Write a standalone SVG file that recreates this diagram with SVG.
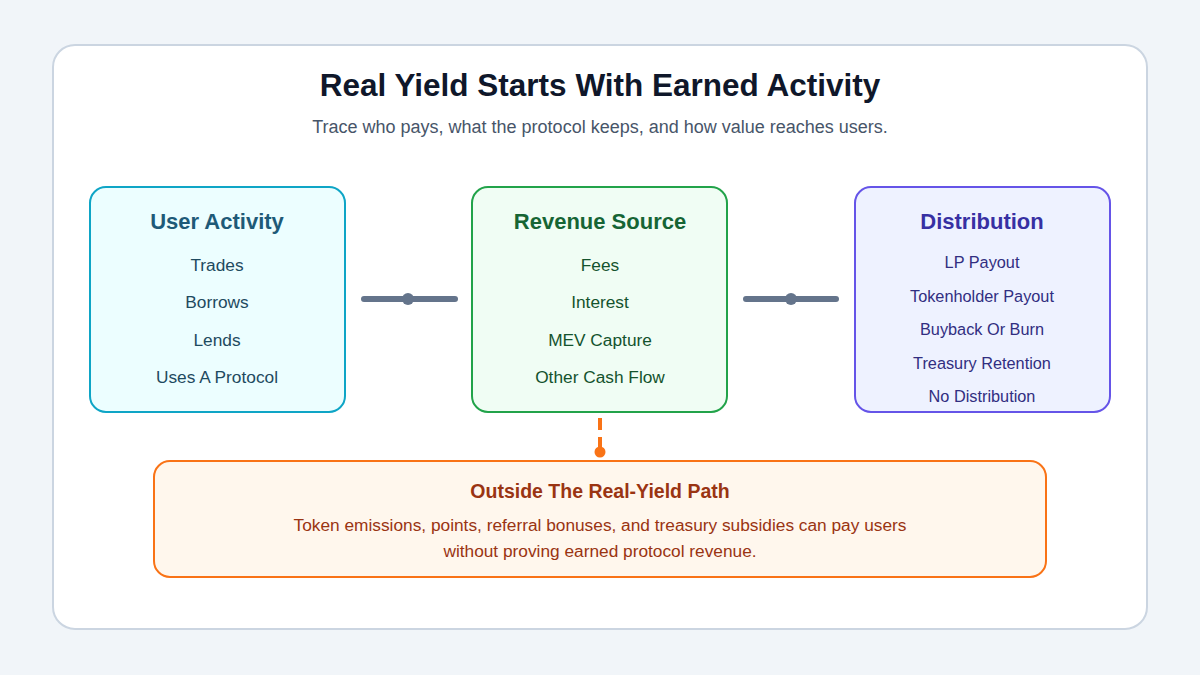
<svg xmlns="http://www.w3.org/2000/svg" width="1200" height="675" viewBox="0 0 1200 675">
<style>
text{font-family:"Liberation Sans",Arial,sans-serif;text-anchor:middle}
.h{font-size:22px;font-weight:bold}
.i{font-size:17.3px}
.c{stroke:#64748b;stroke-width:6;stroke-linecap:round;fill:none}
</style>
<rect width="1200" height="675" fill="#f1f5f9"/>
<rect x="53" y="45" width="1094" height="584" rx="22" fill="#fff" stroke="#cbd5e1" stroke-width="2"/>
<text x="600" y="96" style="font-size:31.5px;font-weight:bold" fill="#0f172a">Real Yield Starts With Earned Activity</text>
<text x="600" y="133" style="font-size:18px" fill="#475569">Trace who pays, what the protocol keeps, and how value reaches users.</text>
<g id="connectors">
<line class="c" x1="364" y1="299" x2="455" y2="299"/><circle cx="408" cy="299" r="6" fill="#64748b"/>
<line class="c" x1="746" y1="299" x2="836" y2="299"/><circle cx="791" cy="299" r="6" fill="#64748b"/>
<line x1="600" y1="418" x2="600" y2="452" stroke="#f97316" stroke-width="4" stroke-dasharray="12,7"/><circle cx="600" cy="452" r="5.5" fill="#f97316"/>
</g>
<g id="activity">
<rect x="90" y="187" width="255" height="225" rx="16" fill="#ecfeff" stroke="#0ea5c6" stroke-width="2"/>
<text class="h" x="217" y="229" fill="#1e5a78">User Activity</text>
<g class="i" fill="#1e4a60"><text x="217" y="271">Trades</text><text x="217" y="308">Borrows</text><text x="217" y="346">Lends</text><text x="217" y="383">Uses A Protocol</text></g>
</g>
<g id="revenue">
<rect x="472" y="187" width="255" height="225" rx="16" fill="#f0fdf4" stroke="#22a34a" stroke-width="2"/>
<text class="h" x="600" y="229" fill="#166534">Revenue Source</text>
<g class="i" fill="#14532d"><text x="600" y="271">Fees</text><text x="600" y="308">Interest</text><text x="600" y="346">MEV Capture</text><text x="600" y="383">Other Cash Flow</text></g>
</g>
<g id="distribution">
<rect x="855" y="187" width="255" height="225" rx="16" fill="#eef2ff" stroke="#6554e8" stroke-width="2"/>
<text class="h" x="982" y="229" fill="#3730a3">Distribution</text>
<g class="i" fill="#312e81" style="font-size:16.3px"><text x="982" y="268">LP Payout</text><text x="982" y="302">Tokenholder Payout</text><text x="982" y="335">Buyback Or Burn</text><text x="982" y="369">Treasury Retention</text><text x="982" y="402">No Distribution</text></g>
</g>
<g id="outside">
<rect x="154" y="461" width="892" height="116" rx="16" fill="#fff7ed" stroke="#f97316" stroke-width="2"/>
<text x="600" y="498" style="font-size:19.5px;font-weight:bold" fill="#9a3412">Outside The Real-Yield Path</text>
<g class="i" fill="#9a3412"><text x="600" y="531">Token emissions, points, referral bonuses, and treasury subsidies can pay users</text><text x="600" y="557">without proving earned protocol revenue.</text></g>
</g>
</svg>
